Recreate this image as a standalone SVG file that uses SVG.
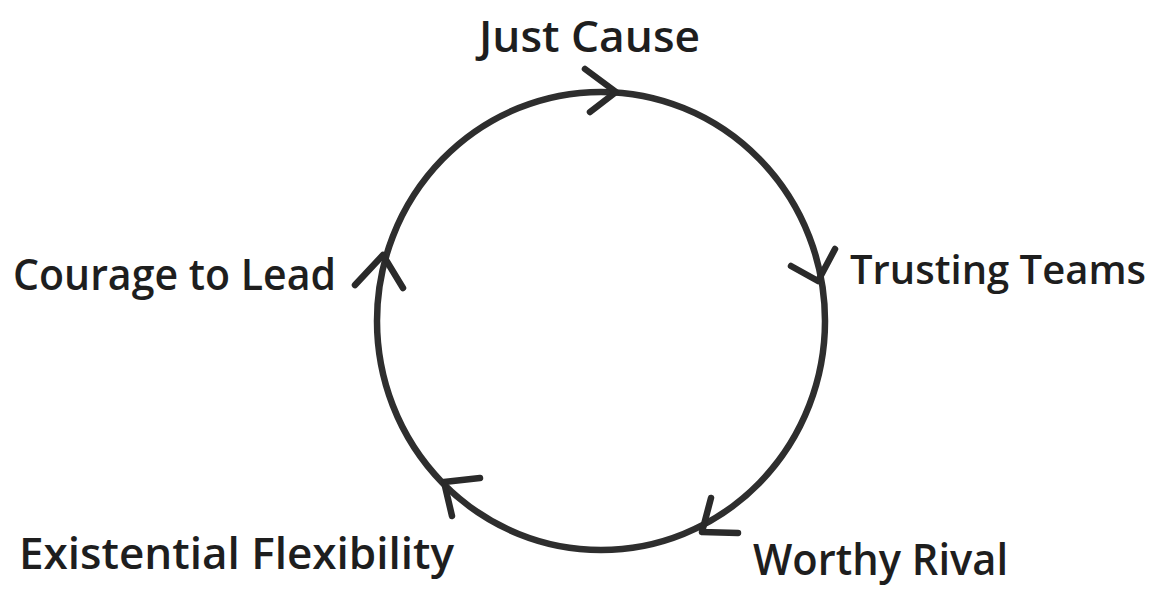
<svg xmlns="http://www.w3.org/2000/svg" width="1163" height="592" viewBox="0 0 1163 592">
<style>
.ring{fill:none;stroke:#2e2e2e;stroke-width:6.5}
.head{fill:none;stroke:#2a2a2a;stroke-width:6.5;stroke-linecap:round;stroke-linejoin:round}
.lbl{font-family:"Open Sans","Liberation Sans",sans-serif;font-size:44px;font-weight:600;fill:#1e1e1e}
</style>
<rect width="1163" height="592" fill="#ffffff"/>
<g id="connectors">
<ellipse class="ring" cx="601" cy="321" rx="224" ry="229"/>
<path class="head" d="M585,69 L616,92 L590,112"/>
<path class="head" d="M791,266 L818,281 L835,249"/>
<path class="head" d="M711,498 L702,532 L738,533"/>
<path class="head" d="M480,478 L444,482 L452,516"/>
<path class="head" d="M355,285 L383,255 L403,288"/>
</g>
<g id="node-just-cause"><text class="lbl" x="479" y="52" textLength="221" lengthAdjust="spacingAndGlyphs">Just Cause</text></g>
<g id="node-trusting-teams"><text class="lbl" x="850" y="284" style="font-size:40px" textLength="296" lengthAdjust="spacingAndGlyphs">Trusting Teams</text></g>
<g id="node-worthy-rival"><text class="lbl" x="753" y="575" textLength="255" lengthAdjust="spacingAndGlyphs">Worthy Rival</text></g>
<g id="node-existential-flexibility"><text class="lbl" x="19" y="569" textLength="435" lengthAdjust="spacingAndGlyphs">Existential Flexibility</text></g>
<g id="node-courage-to-lead"><text class="lbl" x="13" y="290" textLength="323" lengthAdjust="spacingAndGlyphs">Courage to Lead</text></g>
</svg>
